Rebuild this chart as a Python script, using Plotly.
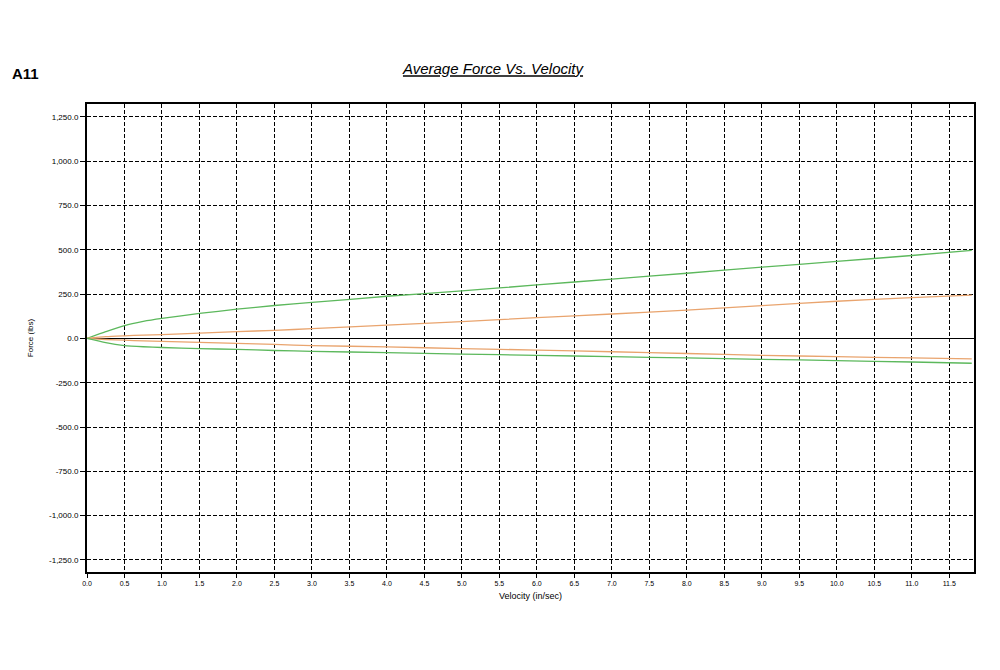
import plotly.graph_objects as go

velocity = [0, 0.25, 0.5, 0.75, 1.0, 1.5, 2.0, 2.5, 3.0, 4.0, 5.0, 6.0, 7.0, 8.0, 9.0, 10.0, 11.0, 11.8]
green_upper = [0, 38, 73, 96, 113, 141, 165, 186, 203, 238, 268, 302, 335, 368, 402, 435, 468, 497]
orange_upper = [0, 10, 15, 19, 22, 30, 38, 46, 55, 75, 95, 117, 138, 160, 185, 210, 230, 245]
orange_lower = [0, -6, -10, -14, -17, -22, -28, -34, -40, -48, -57, -66, -75, -85, -95, -103, -110, -115]
green_lower = [0, -24, -40, -47, -51, -57, -62, -68, -73, -80, -88, -95, -103, -110, -118, -125, -133, -140]

x_ticks = [i * 0.5 for i in range(24)]
x_labels = [f"{v:.1f}" for v in x_ticks]
y_ticks = [1250, 1000, 750, 500, 250, 0, -250, -500, -750, -1000, -1250]
y_labels = ["1,250.0", "1,000.0", "750.0", "500.0", "250.0", "0.0",
            "-250.0", "-500.0", "-750.0", "-1,000.0", "-1,250.0"]

GREEN = "#5cb85c"
ORANGE = "#e9a46e"
FONT = "Arial, Liberation Sans, sans-serif"

fig = go.Figure()
for ys, col in [(green_upper, GREEN), (orange_upper, ORANGE), (orange_lower, ORANGE), (green_lower, GREEN)]:
    fig.add_trace(go.Scatter(x=velocity, y=ys, mode="lines",
                             line=dict(color=col, width=1.3, shape="spline", smoothing=0.6),
                             showlegend=False, hoverinfo="skip"))

fig.update_layout(
    width=1000, height=670,
    margin=dict(l=87, r=26, t=104, b=98),
    paper_bgcolor="white", plot_bgcolor="white",
    font=dict(family=FONT, color="black"),
    title=dict(text="<u><i>Average Force Vs. Velocity</i></u>", x=0.493, xanchor="center",
               y=1 - 69 / 670, yanchor="middle", font=dict(size=15, family=FONT, color="black")),
    annotations=[dict(text="<b>A11</b>", xref="paper", yref="paper", x=-87 / 887 + 10 / 887,
                      xanchor="left", y=1 + 31 / 468, yanchor="middle", showarrow=False,
                      font=dict(size=15, family=FONT, color="black"))],
)
fig.update_xaxes(
    range=[0, 11.83], tickmode="array", tickvals=x_ticks, ticktext=x_labels,
    showgrid=True, gridcolor="black", griddash="4px,2px", gridwidth=1.4,
    showline=True, linecolor="black", linewidth=2, mirror=True,
    ticks="outside", ticklen=4, tickcolor="black", tickfont=dict(size=7, family=FONT, color="black"),
    zeroline=False,
    title=dict(text="Velocity (in/sec)", font=dict(size=9, family=FONT, color="black"), standoff=6),
)
fig.update_yaxes(
    range=[-1318, 1323], tickmode="array", tickvals=y_ticks, ticktext=y_labels,
    showgrid=True, gridcolor="black", griddash="4px,2px", gridwidth=1.4,
    showline=True, linecolor="black", linewidth=2, mirror=True,
    ticks="outside", ticklen=5, tickcolor="black", tickfont=dict(size=8, family=FONT, color="black"),
    zeroline=True, zerolinecolor="black", zerolinewidth=1.3,
    title=dict(text="Force (lbs)", font=dict(size=8, family=FONT, color="black"), standoff=14),
)

fig.write_html("out.html")
